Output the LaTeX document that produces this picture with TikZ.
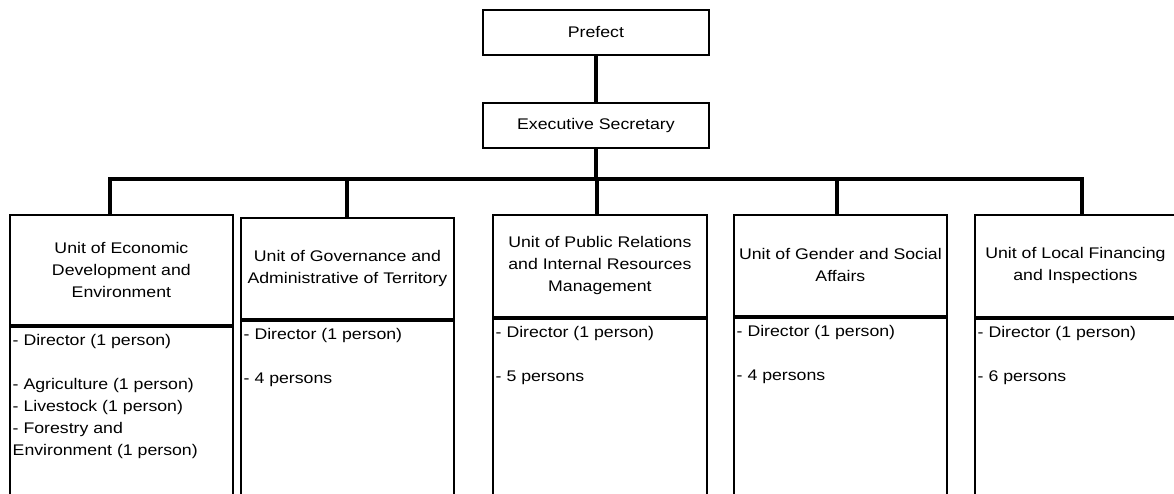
\documentclass[tikz,border=0pt]{standalone}
\usepackage{fontspec}
\setmainfont{Liberation Sans}[FakeStretch=1.15]
\usetikzlibrary{calc}
\tikzset{
  box/.style={draw=black, line width=1.8pt, inner sep=0pt, align=center, anchor=north west},
  conn/.style={draw=black, line width=3.2pt},
  bodytext/.style={inner sep=0pt, align=left, anchor=north west},
}
\begin{document}
\begin{tikzpicture}[x=1pt,y=-1pt,font=\fontsize{15.4}{22}\selectfont]
\useasboundingbox (0,0) rectangle (1174,493);
\clip (0,0) rectangle (1174,493);
% top boxes
\node[box, minimum width=226pt, minimum height=45pt] (pref) at (482,9) {Prefect};
\node[box, minimum width=226pt, minimum height=45pt] (es) at (482,102) {Executive Secretary};
% unit title boxes
\node[box, minimum width=223pt, minimum height=110pt] (t1) at (9,214) {Unit of Economic\\Development and\\Environment};
\node[box, minimum width=213pt, minimum height=101pt] (t2) at (240,217) {Unit of Governance and\\Administrative of Territory};
\node[box, minimum width=214pt, minimum height=102pt] (t3) at (492,214) {Unit of Public Relations\\and Internal Resources\\Management};
\node[box, minimum width=213pt, minimum height=101pt] (t4) at (733,214) {Unit of Gender and Social\\Affairs};
\node[box, minimum width=201pt, minimum height=102pt] (t5) at (974,214) {Unit of Local Financing\\and Inspections};
% body boxes
\node[box, minimum width=223pt, minimum height=220pt] (p1) at (t1.south west) {};
\node[box, minimum width=213pt, minimum height=220pt] (p2) at (t2.south west) {};
\node[box, minimum width=214pt, minimum height=220pt] (p3) at (t3.south west) {};
\node[box, minimum width=213pt, minimum height=220pt] (p4) at (t4.south west) {};
\node[box, minimum width=201pt, minimum height=220pt] (p5) at (t5.south west) {};
% body texts
\node[bodytext] (x1) at ($(p1.north west)+(3.5,8)$) {- Director (1 person)\\[22pt]- Agriculture (1 person)\\- Livestock (1 person)\\- Forestry and\\Environment (1 person)};
\node[bodytext] (x2) at ($(p2.north west)+(3.5,8)$) {- Director (1 person)\\[22pt]- 4 persons};
\node[bodytext] (x3) at ($(p3.north west)+(3.5,8)$) {- Director (1 person)\\[22pt]- 5 persons};
\node[bodytext] (x4) at ($(p4.north west)+(3.5,8)$) {- Director (1 person)\\[22pt]- 4 persons};
\node[bodytext] (x5) at ($(p5.north west)+(3.5,8)$) {- Director (1 person)\\[22pt]- 6 persons};
% connectors
\coordinate (d1) at (110,179);
\coordinate (d2) at (347,179);
\coordinate (d3) at (597,179);
\coordinate (d4) at (837,179);
\coordinate (d5) at (1082,179);
\draw[conn] (pref.south) -- (es.north);
\draw[conn] (es.south) -- (es.south |- d3);
\draw[conn, line cap=rect] (d1) -- (d5);
\draw[conn] (d1) -- (d1 |- t1.north);
\draw[conn] (d2) -- (d2 |- t2.north);
\draw[conn] (d3) -- (d3 |- t3.north);
\draw[conn] (d4) -- (d4 |- t4.north);
\draw[conn] (d5) -- (d5 |- t5.north);
\end{tikzpicture}
\end{document}
